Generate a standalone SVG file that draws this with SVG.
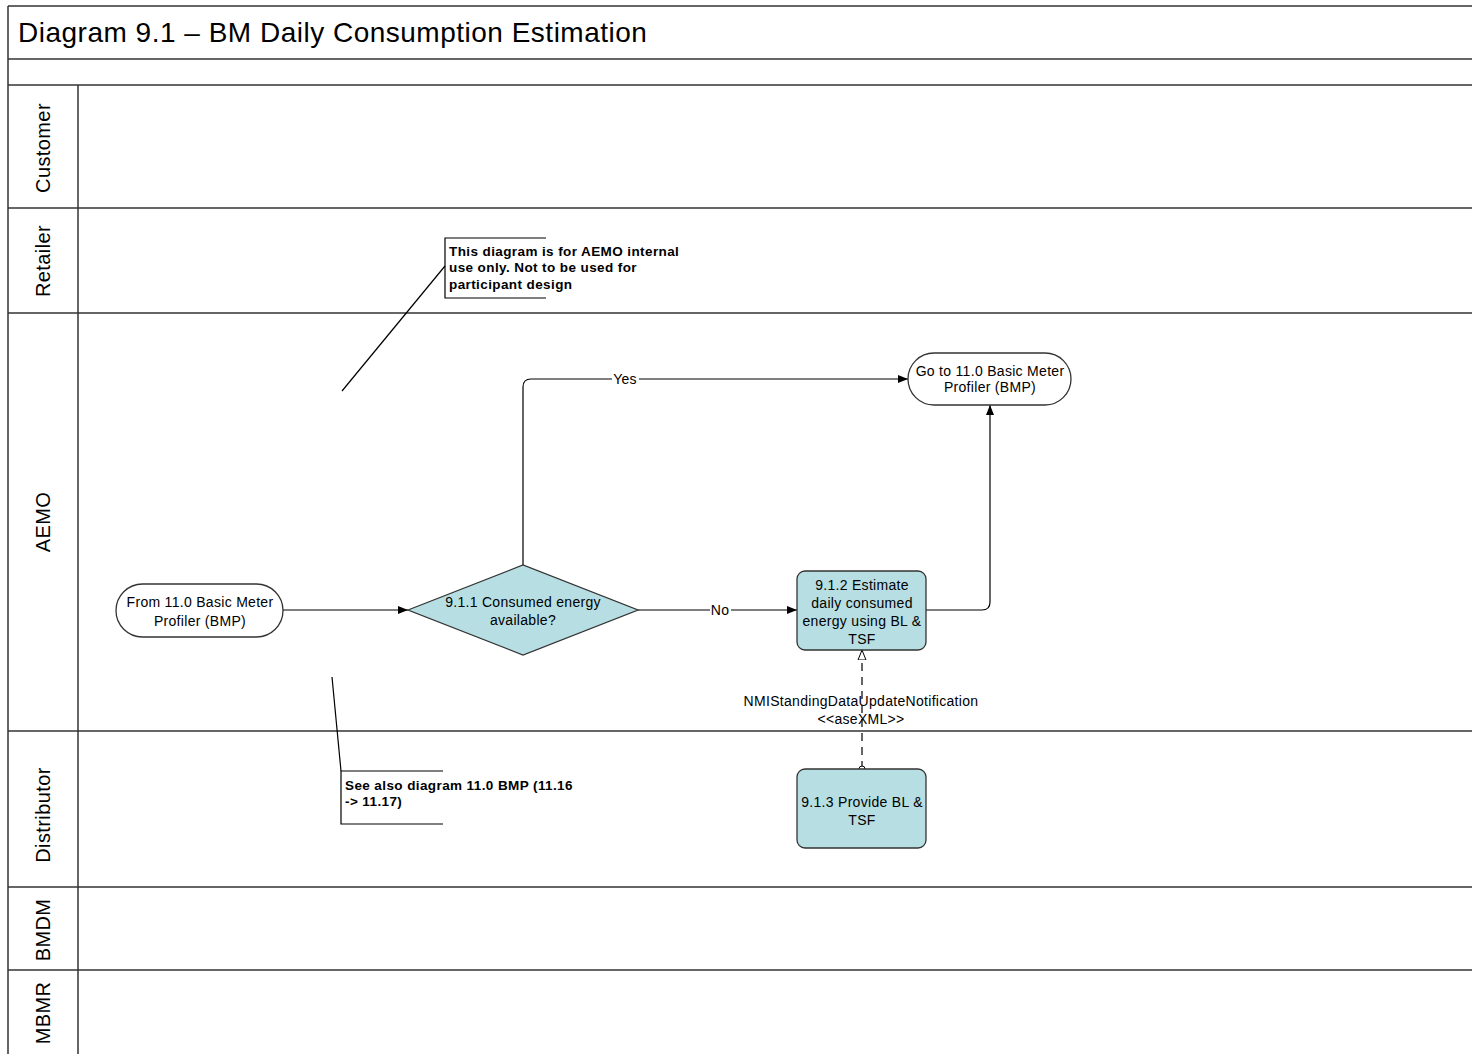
<svg xmlns="http://www.w3.org/2000/svg" width="1472" height="1054" viewBox="0 0 1472 1054">
<style>
.frame{fill:none;stroke:#333;stroke-width:1.5}
.lane{font-family:"Liberation Sans",Arial,sans-serif;font-size:20px;letter-spacing:0.4px;fill:#000}
.t{font-family:"Liberation Sans",Arial,sans-serif;font-size:14px;letter-spacing:0.3px;fill:#000}
.b{font-family:"Liberation Sans",Arial,sans-serif;font-size:13.5px;letter-spacing:0.4px;font-weight:bold;fill:#000}
.proc{fill:#b7dfe3;stroke:#333;stroke-width:1.3}
.term{fill:#fff;stroke:#333;stroke-width:1.3}
.con{fill:none;stroke:#000;stroke-width:1.2}
</style>
<defs>
<marker id="arr" viewBox="0 0 10 10" refX="10" refY="5" markerWidth="10" markerHeight="10" markerUnits="userSpaceOnUse" orient="auto">
<path d="M0,1 L10,5 L0,9 Z" fill="#000"/>
</marker>
<marker id="hollow" viewBox="0 0 10 10" refX="10" refY="5" markerWidth="10" markerHeight="10" markerUnits="userSpaceOnUse" orient="auto">
<path d="M0,1 L10,5 L0,9 Z" fill="#fff" stroke="#000" stroke-width="1"/>
</marker>
<marker id="circ" viewBox="0 0 8 8" refX="4" refY="4" markerWidth="8" markerHeight="8" markerUnits="userSpaceOnUse" orient="auto">
<circle cx="4" cy="4" r="3" fill="#fff" stroke="#000" stroke-width="1"/>
</marker>
</defs>
<rect width="1472" height="1054" fill="#fff"/>
<g id="frame">
<line class="frame" x1="8" y1="6" x2="1472" y2="6"/>
<line class="frame" x1="8" y1="6" x2="8" y2="1054"/>
<line class="frame" x1="8" y1="59" x2="1472" y2="59"/>
<line class="frame" x1="8" y1="85" x2="1472" y2="85"/>
<line class="frame" x1="78" y1="85" x2="78" y2="1054"/>
<line class="frame" x1="8" y1="208" x2="1472" y2="208"/>
<line class="frame" x1="8" y1="313" x2="1472" y2="313"/>
<line class="frame" x1="8" y1="731" x2="1472" y2="731"/>
<line class="frame" x1="8" y1="887" x2="1472" y2="887"/>
<line class="frame" x1="8" y1="970" x2="1472" y2="970"/>
<text x="18" y="42" font-family="Liberation Sans,Arial,sans-serif" font-size="28" letter-spacing="0.5">Diagram 9.1 – BM Daily Consumption Estimation</text>
<text class="lane" transform="translate(50,148) rotate(-90)" text-anchor="middle">Customer</text>
<text class="lane" transform="translate(50,261) rotate(-90)" text-anchor="middle">Retailer</text>
<text class="lane" transform="translate(50,522) rotate(-90)" text-anchor="middle">AEMO</text>
<text class="lane" transform="translate(50,815) rotate(-90)" text-anchor="middle">Distributor</text>
<text class="lane" transform="translate(50,930) rotate(-90)" text-anchor="middle">BMDM</text>
<text class="lane" transform="translate(50,1013) rotate(-90)" text-anchor="middle">MBMR</text>
</g>
<g id="connectors">
<line class="con" x1="283" y1="610" x2="408" y2="610" marker-end="url(#arr)"/>
<path class="con" d="M638,610 H797" marker-end="url(#arr)"/>
<rect x="710" y="603" width="21" height="14" fill="#fff"/>
<text class="t" x="720" y="615" text-anchor="middle">No</text>
<path class="con" d="M523,565 V387 Q523,379 531,379 H908" marker-end="url(#arr)"/>
<rect x="612" y="372" width="27" height="14" fill="#fff"/>
<text class="t" x="625" y="384" text-anchor="middle">Yes</text>
<path class="con" d="M926,610 H982 Q990,610 990,602 V405" marker-end="url(#arr)"/>
<path class="con" d="M862,769 V650" stroke-dasharray="8,6" marker-start="url(#circ)" marker-end="url(#hollow)"/>
<text class="t" x="861" y="706" text-anchor="middle">NMIStandingDataUpdateNotification</text>
<text class="t" x="861" y="724" text-anchor="middle">&lt;&lt;aseXML&gt;&gt;</text>
</g>
<g id="node-from">
<rect class="term" x="116" y="584" width="167" height="53" rx="26.5"/>
<text class="t" x="200" y="607" text-anchor="middle">From 11.0 Basic Meter</text>
<text class="t" x="200" y="626" text-anchor="middle">Profiler (BMP)</text>
</g>
<g id="node-911">
<polygon class="proc" points="408,610 523,565 638,610 523,655"/>
<text class="t" x="523" y="607" text-anchor="middle">9.1.1 Consumed energy</text>
<text class="t" x="523" y="625" text-anchor="middle">available?</text>
</g>
<g id="node-912">
<rect class="proc" x="797" y="571" width="129" height="79" rx="8"/>
<text class="t" x="862" y="590" text-anchor="middle">9.1.2 Estimate</text>
<text class="t" x="862" y="608" text-anchor="middle">daily consumed</text>
<text class="t" x="862" y="626" text-anchor="middle">energy using BL &amp;</text>
<text class="t" x="862" y="644" text-anchor="middle">TSF</text>
</g>
<g id="node-goto">
<rect class="term" x="908" y="353" width="163" height="52" rx="26"/>
<text class="t" x="990" y="376" text-anchor="middle">Go to 11.0 Basic Meter</text>
<text class="t" x="990" y="392" text-anchor="middle">Profiler (BMP)</text>
</g>
<g id="node-913">
<rect class="proc" x="797" y="769" width="129" height="79" rx="8"/>
<text class="t" x="862" y="807" text-anchor="middle">9.1.3 Provide BL &amp;</text>
<text class="t" x="862" y="825" text-anchor="middle">TSF</text>
</g>
<g id="note-internal">
<path class="con" d="M546,238 H445 V298 H546"/>
<line class="con" x1="445" y1="266" x2="342" y2="391"/>
<text class="b" x="449" y="256">This diagram is for AEMO internal</text>
<text class="b" x="449" y="272">use only. Not to be used for</text>
<text class="b" x="449" y="289">participant design</text>
</g>
<g id="note-see-also">
<path class="con" d="M443,771 H341 V824 H443"/>
<line class="con" x1="341" y1="771" x2="332" y2="677"/>
<text class="b" x="345" y="790">See also diagram 11.0 BMP (11.16</text>
<text class="b" x="345" y="806">-&gt; 11.17)</text>
</g>
</svg>
